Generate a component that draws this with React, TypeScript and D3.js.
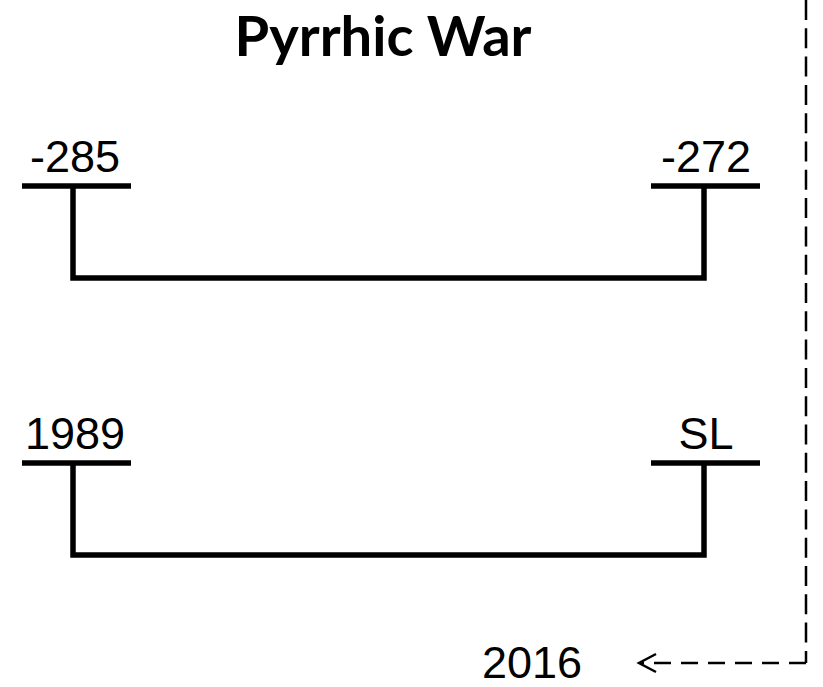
import * as d3 from "d3";

// diagram content
const title = "Pyrrhic War";
const startLabels = ["-285", "1989"];
const endLabels = ["-272", "SL"];
const arrowLabel = "2016";

const width = 823;
const height = 687;

export default function App() {
  // rows (underline y) and the two columns (bracket leg x)
  const y = d3.scalePoint<number>().domain(d3.range(startLabels.length)).range([186, 463]);
  const x = d3.scalePoint<string>().domain(["start", "end"]).range([73, 704]);

  const drop = 92;
  const font = "'Liberation Sans', Arial, sans-serif";

  const bracket = (row: number) => {
    const p = d3.path();
    const y0 = y(row)!;
    p.moveTo(x("start")!, y0);
    p.lineTo(x("start")!, y0 + drop);
    p.lineTo(x("end")!, y0 + drop);
    p.lineTo(x("end")!, y0);
    return p.toString();
  };

  // dashed return arrow on the right
  const ax = 806;
  const ay = 663;
  const tip = 639;

  return (
    <svg width={width} height={height} style={{ position: "absolute", left: 0, top: 0, background: "#fff" }}>
      <text
        x={383}
        y={56}
        textAnchor="middle"
        fontFamily="Lato, 'Open Sans', sans-serif"
        fontWeight="bold"
        fontSize={56}
        textLength={297}
        lengthAdjust="spacingAndGlyphs"
      >
        {title}
      </text>

      {startLabels.map((s, i) => (
        <g key={i}>
          <text x={x("start")! + 2} y={y(i)! - 14} textAnchor="middle" fontFamily={font} fontSize={45}>
            {s}
          </text>
          <text x={x("end")! + 2} y={y(i)! - 14} textAnchor="middle" fontFamily={font} fontSize={45}>
            {endLabels[i]}
          </text>
          <line x1={x("start")! - 51} x2={x("start")! + 58} y1={y(i)} y2={y(i)} stroke="#000" strokeWidth={5.5} />
          <line x1={x("end")! - 53} x2={x("end")! + 56} y1={y(i)} y2={y(i)} stroke="#000" strokeWidth={5.5} />
          <path d={bracket(i)} fill="none" stroke="#000" strokeWidth={5.5} />
        </g>
      ))}

      <line x1={ax} x2={ax} y1={0} y2={ay} stroke="#000" strokeWidth={2.5} strokeDasharray="20,8.3" />
      <line x1={ax} x2={tip + 2} y1={ay} y2={ay} stroke="#000" strokeWidth={2.5} strokeDasharray="17,10" />
      <path
        d={`M${tip + 17},${ay - 9}L${tip},${ay}L${tip + 17},${ay + 9}`}
        fill="none"
        stroke="#000"
        strokeWidth={2.5}
      />
      <text x={532} y={678} textAnchor="middle" fontFamily={font} fontSize={45}>
        {arrowLabel}
      </text>
    </svg>
  );
}
